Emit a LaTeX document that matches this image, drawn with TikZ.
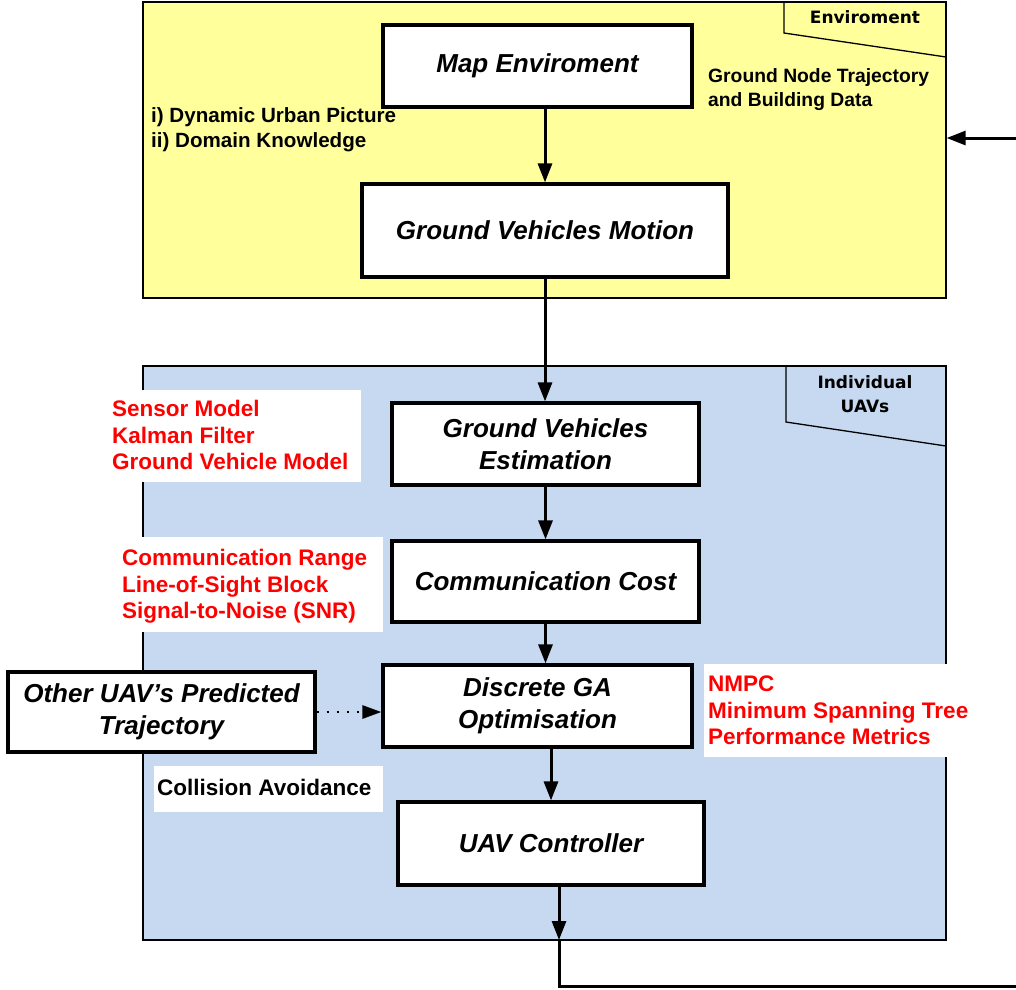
\documentclass[tikz,border=0pt]{standalone}
\usepackage{fontspec}
\setmainfont{Liberation Sans}
\newfontfamily\tabfont{DejaVu Sans}
\usetikzlibrary{arrows.meta}
\definecolor{envyellow}{RGB}{255,255,156}
\definecolor{uavblue}{RGB}{198,217,240}
\definecolor{notered}{RGB}{255,0,0}

\begin{document}
\begin{tikzpicture}[x=1pt,y=-1pt,
  container/.style={draw=black, line width=1.3pt, inner sep=0pt},
  proc/.style={draw=black, line width=3.2pt, fill=white, inner sep=0pt, align=center,
    font=\fontsize{26}{32}\selectfont\bfseries\itshape},
  tabtext/.style={font=\tabfont\fontsize{17}{24}\selectfont\bfseries, align=center, inner sep=0pt},
  blacknote/.style={font=\fontsize{20.6}{25}\selectfont\bfseries, align=left, inner sep=0pt, anchor=north west},
  rednote/.style={font=\fontsize{22.5}{26.5}\selectfont\bfseries, text=notered, align=left, inner sep=0pt, anchor=north west},
  notebg/.style={fill=white, draw=none},
  flow/.style={line width=3pt, -{Triangle[length=19pt,width=14pt]}},
  dotflow/.style={line width=2.8pt, dash pattern=on 2.8pt off 7.2pt, -{Triangle[length=19pt,width=13pt]}}
]
\useasboundingbox (0,0) rectangle (1016,989);

% ---- containers ----
\node[container, fill=envyellow, minimum width=803, minimum height=296] (env) at (544.5,150) {};
\node[container, fill=uavblue, minimum width=803, minimum height=574] (uavs) at (544.5,653) {};

% environment tab
\coordinate (envtabtop) at (784,2);
\coordinate (envtabcorner) at (784,33);
\coordinate (envtabend) at (946,57);
\draw[line width=1.3pt] (envtabtop) -- (envtabcorner) -- (envtabend);
\node[tabtext] (envtab) at (865,17) {Enviroment};

% individual UAVs tab
\coordinate (uavtabtop) at (786,366);
\coordinate (uavtabcorner) at (786,422);
\coordinate (uavtabend) at (946,446);
\draw[line width=1.3pt] (uavtabtop) -- (uavtabcorner) -- (uavtabend);
\node[tabtext] (uavtab) at (865,394) {Individual\\UAVs};

% ---- white backgrounds behind side notes ----
\fill[notebg] (108,390) rectangle (361,482);
\fill[notebg] (118,537) rectangle (383,632);
\fill[notebg] (704,664) rectangle (975,757);
\fill[notebg] (154,766) rectangle (383,812);

% ---- process blocks ----
\node[proc, minimum width=309, minimum height=82] (map) at (537.5,66) {Map Enviroment};
\node[proc, minimum width=366, minimum height=93] (gvm) at (545,230.5) {Ground Vehicles Motion};
\node[proc, minimum width=307, minimum height=82] (gve) at (545.5,444) {Ground Vehicles\\Estimation};
\node[proc, minimum width=307, minimum height=81] (cc) at (545.5,581.5) {Communication Cost};
\node[proc, minimum width=309, minimum height=82] (dga) at (537.5,706) {Discrete GA\\Optimisation};
\node[proc, minimum width=306, minimum height=83] (uavc) at (551,843.5) {UAV Controller};
\node[proc, minimum width=307, minimum height=80] (other) at (161.5,712) {Other UAV’s Predicted\\Trajectory};

% ---- side notes ----
\node[blacknote] (urban) at (151,107) {i) Dynamic Urban Picture\\ii) Domain Knowledge};
\node[blacknote, font=\fontsize{19.3}{24}\selectfont\bfseries] (gnt) at (708,68) {Ground Node Trajectory\\and Building Data};
\node[rednote] (sensor) at (112,400) {Sensor Model\\Kalman Filter\\Ground Vehicle Model};
\node[rednote] (comm) at (122,549) {Communication Range\\Line-of-Sight Block\\Signal-to-Noise (SNR)};
\node[rednote] (nmpc) at (708,676) {NMPC\\Minimum Spanning Tree\\Performance Metrics};
\node[blacknote, font=\fontsize{22.5}{26}\selectfont\bfseries] (collision) at (157,779) {Collision Avoidance};

% ---- connectors ----
\draw[flow] (map.south -| gvm.north) -- (gvm.north);
\draw[flow] (gvm.south) -- (gvm.south |- gve.north);
\draw[flow] (gve.south) -- (gve.south |- cc.north);
\draw[flow] (cc.south) -- (cc.south |- dga.north);
\draw[flow] (uavc.north |- dga.south) -- (uavc.north);
\draw[dotflow] (other.east) -- (other.east -| dga.west);

% feedback loop from the controller back into the environment
\coordinate (feedin) at (1016,138);
\draw[flow] (feedin) -- (feedin -| env.east);
\coordinate (ctrlout) at (559,885);
\coordinate (loopdown) at (559,940);
\coordinate (loopcorner) at (559,986);
\coordinate (loopend) at (1016,986);
\draw[flow] (ctrlout) -- (loopdown);
\draw[line width=3pt] (loopdown) -- (loopcorner) -- (loopend);
\end{tikzpicture}
\end{document}
